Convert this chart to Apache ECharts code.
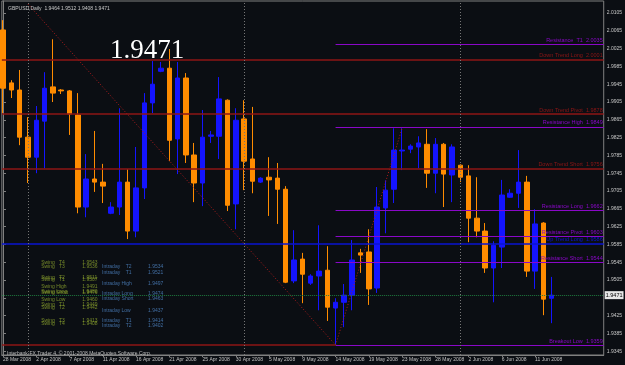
<!DOCTYPE html>
<html>
<head>
<meta charset="UTF-8">
<title>GBPUSD,Daily</title>
<script src="https://cdn.jsdelivr.net/npm/echarts@6/dist/echarts.min.js"></script>
<style>
html,body{margin:0;padding:0;background:#0b0e13;}
#chart{width:625px;height:365px;}
</style>
</head>
<body>
<div id="chart"></div>
<script type="text/javascript">
// bar dates (broker sends sunday bars too)
var dates = ['28 Mar 2008','30 Mar 2008','31 Mar 2008','1 Apr 2008','2 Apr 2008','3 Apr 2008','4 Apr 2008',
  '6 Apr 2008','7 Apr 2008','8 Apr 2008','9 Apr 2008','10 Apr 2008','11 Apr 2008',
  '13 Apr 2008','14 Apr 2008','15 Apr 2008','16 Apr 2008','17 Apr 2008','18 Apr 2008',
  '20 Apr 2008','21 Apr 2008','22 Apr 2008','23 Apr 2008','24 Apr 2008','25 Apr 2008',
  '27 Apr 2008','28 Apr 2008','29 Apr 2008','30 Apr 2008','1 May 2008','2 May 2008',
  '4 May 2008','5 May 2008','6 May 2008','7 May 2008','8 May 2008','9 May 2008',
  '11 May 2008','12 May 2008','13 May 2008','14 May 2008','15 May 2008','16 May 2008',
  '18 May 2008','19 May 2008','20 May 2008','21 May 2008','22 May 2008','23 May 2008',
  '25 May 2008','26 May 2008','27 May 2008','28 May 2008','29 May 2008','30 May 2008',
  '1 Jun 2008','2 Jun 2008','3 Jun 2008','4 Jun 2008','5 Jun 2008','6 Jun 2008',
  '8 Jun 2008','9 Jun 2008','10 Jun 2008','11 Jun 2008','12 Jun 2008','13 Jun 2008'];
var opens  = [2.0067,1.9948,1.9932,1.9826,1.9781,1.9862,1.9939,1.9932,1.9930,1.9876,1.9669,1.9732,1.9725,1.9655,1.9669,1.9725,1.9615,
  1.9712,1.9903,1.9974,1.9981,1.9822,1.9959,1.9786,1.9723,1.9828,1.9828,1.9909,1.9676,1.9867,1.9777,1.9725,1.9736,1.9734,
  1.9709,1.9503,1.9552,1.9498,1.9514,1.9527,1.9442,1.9455,1.9471,1.9566,1.9568,1.9487,1.9667,1.9709,1.9795,1.9799,1.9804,
  1.9810,1.9745,1.9810,1.9741,1.9763,1.9739,1.9644,1.9615,1.9532,1.9579,1.9691,1.9700,1.9725,1.9525,1.9633,1.9464];
var highs  = [2.0089,1.9954,1.9977,1.9871,1.9896,1.9972,2.0046,1.9934,1.9932,1.9925,1.9788,1.9840,1.9766,1.9680,1.9891,1.9754,1.9804,
  1.9925,1.9997,1.9995,2.0024,1.9995,1.9970,1.9813,1.9887,1.9840,1.9961,1.9911,1.9891,1.9909,1.9894,1.9736,1.9781,1.9768,
  1.9716,1.9617,1.9566,1.9518,1.9628,1.9581,1.9464,1.9496,1.9595,1.9575,1.9619,1.9714,1.9729,1.9846,1.9846,1.9810,1.9828,
  1.9844,1.9824,1.9813,1.9810,1.9765,1.9763,1.9736,1.9633,1.9592,1.9730,1.9709,1.9797,1.9739,1.9664,1.9635,1.9512];
var lows   = [1.9880,1.9914,1.9808,1.9723,1.9745,1.9756,1.9905,1.9923,1.9831,1.9655,1.9646,1.9703,1.9678,1.9653,1.9651,1.9597,1.9601,
  1.9687,1.9880,1.9972,1.9772,1.9743,1.9768,1.9680,1.9671,1.9813,1.9777,1.9660,1.9619,1.9707,1.9700,1.9723,1.9649,1.9631,
  1.9498,1.9498,1.9453,1.9494,1.9437,1.9413,1.9359,1.9399,1.9437,1.9521,1.9449,1.9476,1.9610,1.9678,1.9752,1.9790,1.9756,
  1.9712,1.9700,1.9669,1.9680,1.9725,1.9590,1.9601,1.9521,1.9455,1.9532,1.9690,1.9667,1.9512,1.9485,1.9426,1.9408];
var closes = [1.9936,1.9932,1.9826,1.9781,1.9864,1.9936,1.9925,1.9930,1.9878,1.9669,1.9732,1.9725,1.9716,1.9669,1.9725,1.9615,1.9712,
  1.9903,1.9945,1.9981,1.9819,1.9959,1.9786,1.9723,1.9826,1.9831,1.9912,1.9673,1.9864,1.9772,1.9727,1.9734,1.9730,1.9709,
  1.9500,1.9550,1.9518,1.9514,1.9525,1.9444,1.9455,1.9471,1.9550,1.9561,1.9485,1.9669,1.9707,1.9797,1.9797,1.9806,1.9813,
  1.9745,1.9810,1.9743,1.9804,1.9736,1.9644,1.9615,1.9532,1.9583,1.9696,1.9700,1.9725,1.9525,1.9631,1.9462,1.9471];

var yTicks = [2.0105,2.0065,2.0025,1.9985,1.9945,1.9905,1.9865,1.9825,1.9785,1.9745,
  1.9705,1.9665,1.9625,1.9585,1.9545,1.9505,1.9465,1.9425,1.9385,1.9345];
var xTicks = [0,4,8,12,16,20,24,28,32,36,40,44,48,52,56,60,64];
var monthStarts = [3,29,55];

// levels drawn by the indicator
var levelNames  = ['Resistance  T1','Down Trend Long','Down Trend Pivot','Resistance High','Down Trend Short',
  'Resistance Long','Resistance Pivot','Up Trend Long','Resistance Short','Breakout Low'];
var levelValues = [2.0035,2.0001,1.9878,1.9849,1.9756,1.9662,1.9603,1.9586,1.9544,1.9359];
var levelKinds  = ['res','down','down','res','down','res','res','up','res','res'];

// zig-zag trend line
var trendIdx = [3,40,48];
var trendVal = [2.0125,1.9359,1.9846];

var swingNames  = ['Swing   T4','Swing   T3','Swing   T2','Swing   T1','Swing High','Swing Long','Swing Short','Swing Low',
  'Swing   T1','Swing   T2','Swing   T3','Swing   T4'];
var swingValues = [1.9543,1.9536,1.9511,1.9507,1.9491,1.9480,1.9476,1.9460,1.9449,1.9442,1.9413,1.9408];
var intraNames  = ['Intraday    T2','Intraday    T1','Intraday High','Intraday Long','Intraday Short','Intraday Low',
  'Intraday    T1','Intraday    T2'];
var intraValues = [1.9534,1.9521,1.9497,1.9474,1.9463,1.9437,1.9414,1.9402];

var lastPrice = 1.9471;
var pivotIdx = 40;

var xMin = -0.138, xMax = 72.25;
var kindColor = {res:'#8a08c8', down:'#8e1616', up:'#0a14d2'};

var candles = [];
for (var i = 0; i < dates.length; i++) {
  candles.push([i, opens[i], closes[i], lows[i], highs[i]]);
}

var lineData = [];
for (var j = 0; j < levelValues.length; j++) {
  var k = levelKinds[j], c = kindColor[k], v = levelValues[j];
  var lbl = {show:true, position:'insideEndTop', distance:1, color:c, fontSize:5.5,
    formatter: levelNames[j] + '  ' + v.toFixed(4)};
  var ls = {color:c, width:(k === 'res' ? 1 : 1.5), type:'solid'};
  if (k === 'res') {
    lineData.push([{coord:[pivotIdx, v], lineStyle:ls, label:lbl}, {coord:[xMax, v]}]);
  } else {
    lineData.push({yAxis:v, lineStyle:ls, label:lbl});
  }
}
// red part of the low line before the pivot
lineData.push([{coord:[xMin, levelValues[9]], lineStyle:{color:kindColor.down, width:1.5, type:'solid'}, label:{show:false}},
  {coord:[pivotIdx, levelValues[9]]}]);
// current price
lineData.push({yAxis:lastPrice, lineStyle:{color:'#1f7a3f', width:1, type:'dotted'},
  label:{show:true, position:'end', distance:1, formatter:lastPrice.toFixed(4), color:'#000',
    backgroundColor:'#e6e6e6', fontSize:5.5, padding:[1,1]}});
monthStarts.forEach(function(m){
  lineData.push({xAxis:m, lineStyle:{color:'#767676', width:1, type:[1,2]}, label:{show:false}});
});

var mychart = echarts.init(document.getElementById('chart'));
var option = {
  animation:false,
  backgroundColor:'#0b0e13',
  textStyle:{fontFamily:'Liberation Sans'},
  title:[
    {text:'GBPUSD,Daily  1.9464 1.9512 1.9408 1.9471', left:3, top:1,
      textStyle:{color:'#c8c8c8', fontSize:5, fontWeight:'normal'}},
    {text:'1.9471', left:105, top:32,
      textStyle:{color:'#ffffff', fontSize:27, fontWeight:'normal', fontFamily:'Liberation Serif'}},
    {text:'Interbank-FX Trader 4, \u00a9 2001-2008 MetaQuotes Software Corp.', left:2, top:346,
      textStyle:{color:'#bdbdbd', fontSize:5, fontWeight:'normal'}}
  ],
  grid:{left:1, right:21, top:1, bottom:10, show:true, borderColor:'#808080', borderWidth:1},
  xAxis:{
    type:'value', min:xMin, max:xMax,
    axisLine:{show:true, lineStyle:{color:'#808080'}},
    axisTick:{show:true, length:2, customValues:xTicks, lineStyle:{color:'#808080'}},
    axisLabel:{customValues:xTicks, formatter:function(v){ return dates[v]; },
      color:'#c0c0c0', fontSize:5, margin:2, align:'left'},
    splitLine:{show:false}
  },
  yAxis:{
    type:'value', position:'right', min:1.93365, max:2.0132, scale:true,
    axisLine:{show:true, lineStyle:{color:'#808080'}},
    axisTick:{show:true, length:3, customValues:yTicks, lineStyle:{color:'#808080'}},
    axisLabel:{customValues:yTicks, formatter:function(v){ return v.toFixed(4); },
      color:'#c8c8c8', fontSize:5, margin:3},
    splitLine:{show:false}
  },
  series:[
    {
      type:'candlestick',
      dimensions:['idx','open','close','lowest','highest'],
      encode:{x:0, y:[1,2,3,4]},
      data:candles,
      barWidth:5,
      itemStyle:{color:'#1414ff', color0:'#ff8c00', borderColor:'#1414ff', borderColor0:'#ff8c00', borderWidth:1},
      markLine:{silent:true, precision:4, symbol:['none','none'], data:lineData}
    },
    {
      type:'line',
      data:trendIdx.map(function(x, n){ return [x, trendVal[n]]; }),
      symbol:'none',
      lineStyle:{color:'#b01c1c', width:1, type:[1,2]},
      z:4
    },
    {
      type:'scatter',
      data:swingValues.map(function(v){ return [4.54, v]; }),
      symbolSize:1,
      itemStyle:{color:'rgba(0,0,0,0)'},
      label:{show:true, position:'right', distance:0,
        formatter:function(p){ return '{a|' + swingNames[p.dataIndex] + '}{b|' + swingValues[p.dataIndex].toFixed(4) + '}'; },
        rich:{a:{width:41, color:'#8fa62e', fontSize:5}, b:{color:'#8fa62e', fontSize:5}}}
    },
    {
      type:'scatter',
      data:intraValues.map(function(v){ return [11.86, v]; }),
      symbolSize:1,
      itemStyle:{color:'rgba(0,0,0,0)'},
      label:{show:true, position:'right', distance:0,
        formatter:function(p){ return '{a|' + intraNames[p.dataIndex] + '}{b|' + intraValues[p.dataIndex].toFixed(4) + '}'; },
        rich:{a:{width:46, color:'#4f86c6', fontSize:5}, b:{color:'#4f86c6', fontSize:5}}}
    }
  ]
};
mychart.setOption(option);
</script>
</body>
</html>
